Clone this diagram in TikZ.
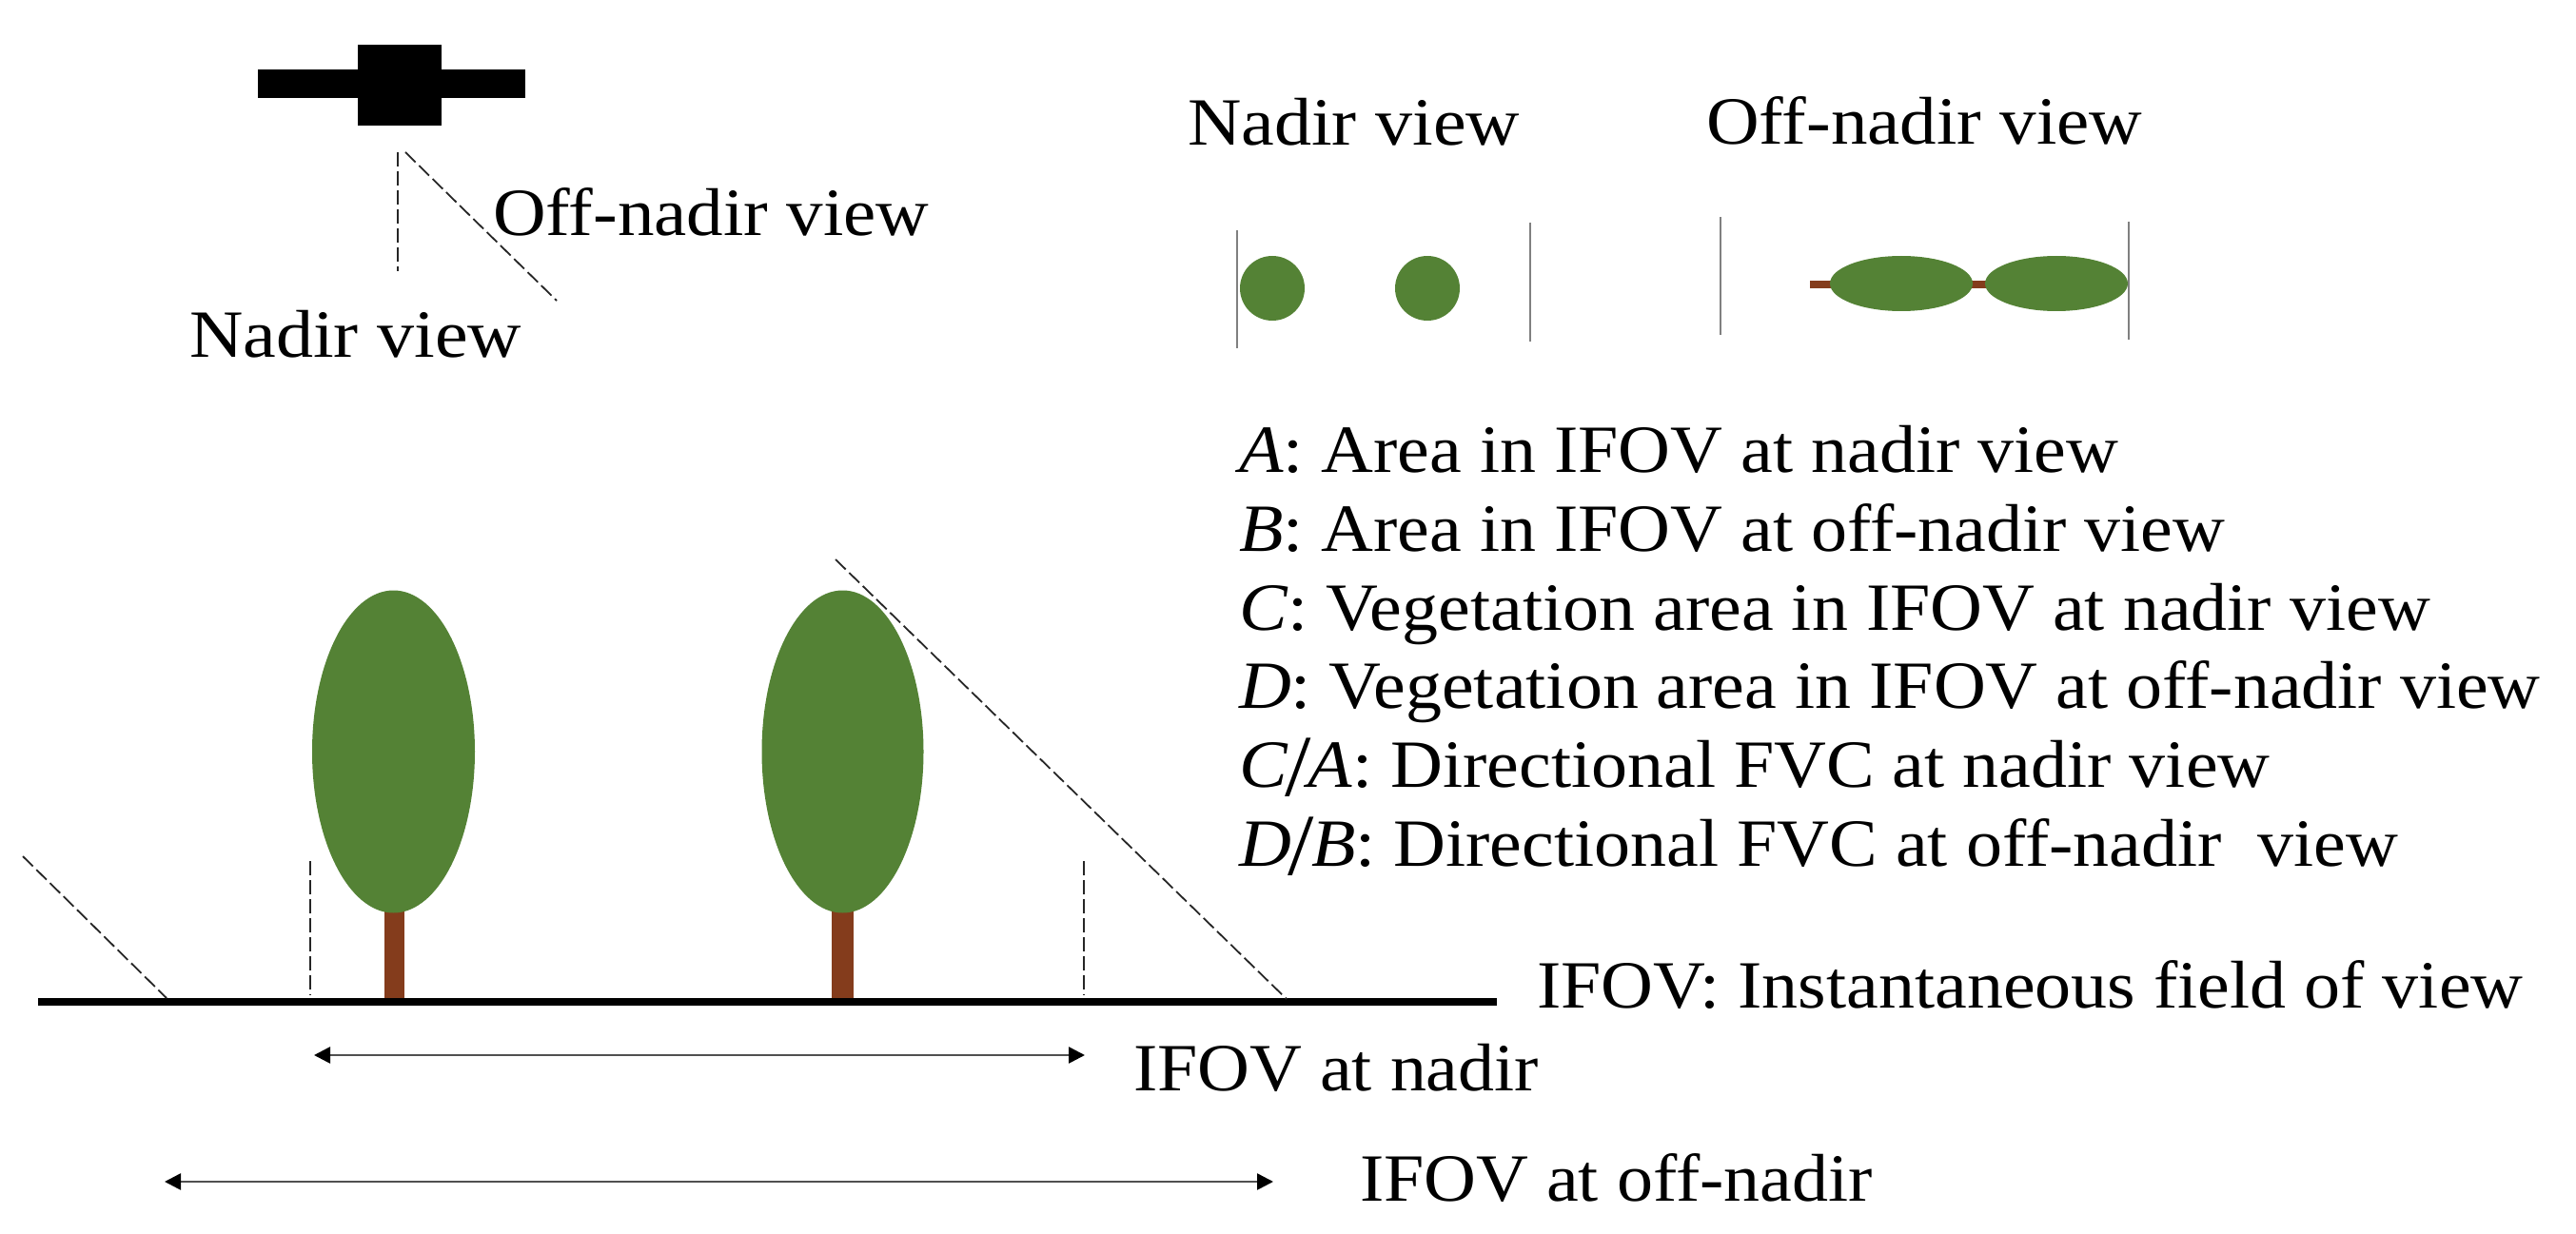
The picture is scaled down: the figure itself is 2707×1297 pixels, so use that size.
\documentclass[tikz,border=0pt]{standalone}
\usepackage{fontspec}
\setmainfont[FakeStretch=1.1]{Liberation Serif}
\newfontfamily\narrowfont[FakeStretch=1.07]{Liberation Serif}
\newfontfamily\midfont[FakeStretch=1.085]{Liberation Serif}
\usetikzlibrary{arrows.meta}
\definecolor{leafgreen}{HTML}{548235}
\definecolor{trunkbrown}{HTML}{843C1C}
\definecolor{darkline}{HTML}{505050}
\newcommand{\bigslash}{\kern-3pt{\fontsize{92}{92}\selectfont\raisebox{-9pt}{/}}\kern-3pt}
\tikzset{
  lbl/.style={anchor=base west,inner sep=0pt,outer sep=0pt,font=\fontsize{71}{85}\selectfont},
  midlbl/.style={lbl,font=\fontsize{71}{85}\selectfont\midfont},
  narrowlbl/.style={lbl,font=\fontsize{71}{85}\selectfont\narrowfont},
  viewdash/.style={line width=1.8pt,black!85,dash pattern=on 15pt off 5pt},
  span/.style={line width=2.6pt,darkline,{Triangle[length=17pt,width=17pt,black]}-{Triangle[length=17pt,width=17pt,black]}},
  edge/.style={line width=1.3pt,gray},
  crown/.style={fill=leafgreen,draw=none},
  trunk/.style={fill=trunkbrown,draw=none}
}
\begin{document}
\begin{tikzpicture}[x=1pt,y=-1pt]
\useasboundingbox (0,0) rectangle (2707,1297);
% satellite
\fill[black] (271,73) rectangle (552,103);
\fill[black] (376,47) rectangle (464,132);
% satellite view lines
\coordinate (sa) at (418,160); \coordinate (sb) at (418,285);
\coordinate (sc) at (426,160); \coordinate (sd) at (585,316);
\draw[viewdash] (sa) -- (sb);
\draw[viewdash] (sc) -- (sd);
% labels left
\node[midlbl] (offL) at (518,248) {Off-nadir view};
\node[lbl] (nadL) at (199,375) {Nadir view};
% labels top right
\node[lbl] (nadR) at (1248,153) {Nadir view};
\node[midlbl] (offR) at (1793,152) {Off-nadir view};
% small panels
\coordinate (e1a) at (1300,242); \coordinate (e1b) at (1300,366);
\coordinate (e2a) at (1608,234); \coordinate (e2b) at (1608,359);
\coordinate (e3a) at (1808,228); \coordinate (e3b) at (1808,352);
\coordinate (e4a) at (2237,233); \coordinate (e4b) at (2237,357);
\draw[edge] (e1a) -- (e1b);
\draw[edge] (e2a) -- (e2b);
\draw[edge] (e3a) -- (e3b);
\draw[edge] (e4a) -- (e4b);
\fill[crown] (1337,303) circle[radius=34];
\fill[crown] (1500,303) circle[radius=34];
\fill[trunk] (1902,295) rectangle (1930,303);
\fill[trunk] (2066,295) rectangle (2092,303);
\fill[crown] (1998,298) ellipse[x radius=75,y radius=29];
\fill[crown] (2161,298) ellipse[x radius=75,y radius=29];
% list
\node[narrowlbl] (la) at (1302,496) {\textit{A}: Area in IFOV at nadir view};
\node[narrowlbl] (lb) at (1302,579) {\textit{B}: Area in IFOV at off-nadir view};
\node[narrowlbl] (lc) at (1302,662) {\textit{C}: Vegetation area in IFOV at nadir view};
\node[narrowlbl] (ld) at (1302,744) {\textit{D}: Vegetation area in IFOV at off-nadir view};
\node[narrowlbl] (le) at (1302,827) {\textit{C}\bigslash\textit{A}: Directional FVC at nadir view};
\node[narrowlbl] (lf) at (1302,910) {\textit{D}\bigslash\textit{B}: Directional FVC at off-nadir\ \ view};
% trees
\fill[trunk] (404,950) rectangle (425,1052);
\fill[trunk] (874,950) rectangle (897,1052);
\fill[crown] (413.5,790) ellipse[x radius=85.5,y radius=169.5];
\fill[crown] (885.5,790) ellipse[x radius=85,y radius=169.5];
% ground
\coordinate (g1) at (40,1053); \coordinate (g2) at (1573,1053);
\draw[line width=8pt,black] (g1) -- (g2);
% ground view lines
\coordinate (d1a) at (24,900); \coordinate (d1b) at (175,1049);
\coordinate (d2a) at (326,905); \coordinate (d2b) at (326,1046);
\coordinate (d3a) at (1139,905); \coordinate (d3b) at (1139,1046);
\coordinate (d4a) at (878,588); \coordinate (d4b) at (1352,1050);
\draw[viewdash] (d1a) -- (d1b);
\draw[viewdash] (d2a) -- (d2b);
\draw[viewdash] (d3a) -- (d3b);
\draw[viewdash] (d4a) -- (d4b);
% spans
\coordinate (a1) at (330,1109); \coordinate (a2) at (1140,1109);
\coordinate (b1) at (173,1242); \coordinate (b2) at (1338,1242);
\draw[span] (a1) -- (a2);
\draw[span] (b1) -- (b2);
\node[narrowlbl] (ifovdef) at (1615,1059) {IFOV: Instantaneous field of view};
\node[narrowlbl] (ifovn) at (1191,1146) {IFOV at nadir};
\node[narrowlbl] (ifovo) at (1429,1262) {IFOV at off-nadir};
\end{tikzpicture}
\end{document}
